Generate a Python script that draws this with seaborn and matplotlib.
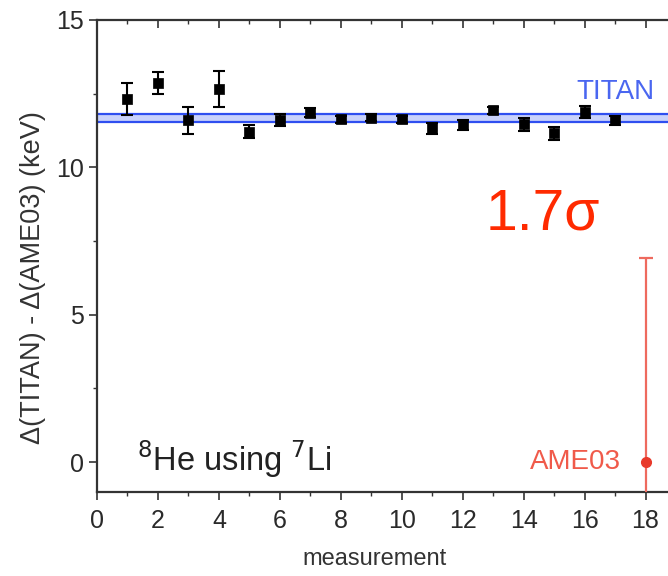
import numpy as np
import pandas as pd
import matplotlib
matplotlib.use("Agg")
import matplotlib.pyplot as plt
from matplotlib.ticker import MultipleLocator
import seaborn as sns

# Individual TITAN measurements of 8He (referenced to 7Li), relative to AME03
measurement = [1, 2, 3, 4, 5, 6, 7, 8, 9, 10, 11, 12, 13, 14, 15, 16, 17]
delta_kev = [12.32, 12.86, 11.59, 12.67, 11.21, 11.60, 11.85, 11.63, 11.68,
             11.63, 11.32, 11.44, 11.94, 11.46, 11.15, 11.87, 11.60]
delta_err = [0.54, 0.36, 0.47, 0.61, 0.22, 0.20, 0.15, 0.12, 0.12,
             0.12, 0.18, 0.18, 0.12, 0.22, 0.22, 0.20, 0.15]

# Weighted TITAN mean and its uncertainty band
titan_mean = 11.665
titan_err = 0.135

# AME03 reference value
ame_x = [18]
ame_y = [0.0]
ame_err = [6.92]

df = pd.DataFrame({"measurement": measurement, "delta": delta_kev, "err": delta_err})

sns.set_theme(style="ticks")
plt.rcParams["font.family"] = ["Liberation Sans", "DejaVu Sans"]

fig = plt.figure(figsize=(6.68, 5.76), dpi=100)
ax = fig.add_axes([0.1452, 0.1467, 0.8668, 0.8186])

spine_col = "#333333"
blue = "#2f4ff0"
red = "#e8392a"

# TITAN band
ax.axhspan(titan_mean - titan_err, titan_mean + titan_err, color="#c9d2fb", lw=0, zorder=1)
ax.axhline(titan_mean - titan_err, color=blue, lw=1.6, zorder=2)
ax.axhline(titan_mean + titan_err, color=blue, lw=1.6, zorder=2)

# measurements
ax.errorbar(df["measurement"], df["delta"], yerr=df["err"], fmt="none",
            ecolor="black", elinewidth=1.5, capsize=4.5, capthick=1.5, zorder=3)
sns.scatterplot(data=df, x="measurement", y="delta", marker="s", s=60,
                color="black", edgecolor="black", linewidth=0.5, ax=ax, zorder=4)

# AME03 point
ax.errorbar(ame_x, ame_y, yerr=ame_err, fmt="o", color=red, ms=7,
            ecolor="#ee6a5e", elinewidth=1.6, capsize=5, capthick=1.6, zorder=3)

ax.set_xlim(0, 19)
ax.set_ylim(-1, 15)
ax.xaxis.set_major_locator(MultipleLocator(2))
ax.xaxis.set_minor_locator(MultipleLocator(1))
ax.yaxis.set_major_locator(MultipleLocator(5))
ax.yaxis.set_minor_locator(MultipleLocator(2.5))

for s in ax.spines.values():
    s.set_color(spine_col)
    s.set_linewidth(1.6)
    s.set_visible(True)

ax.tick_params(which="major", direction="out", length=5.5, width=1.2,
               color=spine_col, labelsize=18, labelcolor="#2a2a2a", pad=4)
ax.tick_params(axis="x", which="major", pad=7)
ax.tick_params(which="minor", direction="out", length=3, width=1.0, color=spine_col)

# mirrored ticks on the top and right axes, pointing inward
top = ax.secondary_xaxis("top")
top.xaxis.set_major_locator(MultipleLocator(2))
top.xaxis.set_minor_locator(MultipleLocator(1))
top.tick_params(which="major", direction="in", length=5.5, width=1.2,
                color=spine_col, labeltop=False)
top.tick_params(which="minor", direction="in", length=3, width=1.0, color=spine_col)
top.spines["top"].set_visible(False)
right = ax.secondary_yaxis("right")
right.yaxis.set_major_locator(MultipleLocator(5))
right.yaxis.set_minor_locator(MultipleLocator(2.5))
right.tick_params(which="major", direction="in", length=5.5, width=1.2,
                  color=spine_col, labelright=False)
right.tick_params(which="minor", direction="in", length=3, width=1.0, color=spine_col)
right.spines["right"].set_visible(False)

ax.set_xlabel("measurement", fontsize=17, color="#333333")
ax.xaxis.set_label_coords(0.48, -0.12)
ax.set_ylabel("Δ(TITAN) - Δ(AME03) (keV)", fontsize=19.5, color="#333333")
ax.yaxis.set_label_coords(-0.088, 0.453)

ax.text(18.3, 12.55, "TITAN", color="#4a66f0", fontsize=20, ha="right", va="center")
ax.text(16.5, 8.4, "1.7σ", color="#ff2a00", fontsize=41, ha="right", va="center")
ax.text(17.2, 0.0, "AME03", color="#f05a4a", fontsize=20, ha="right", va="center")
ax.text(1.3, 0.1, r"$^{8}$He using $^{7}$Li", color="#222222", fontsize=23.5,
        ha="left", va="center")

fig.savefig("out.png", dpi=100)
